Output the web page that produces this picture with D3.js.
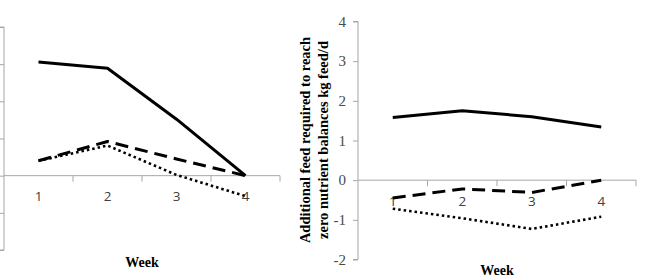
<!DOCTYPE html>
<html><head><meta charset="utf-8">
<script src="https://cdn.jsdelivr.net/npm/d3@7/dist/d3.min.js"></script>
<style>body{margin:0;background:#fff}svg{display:block}</style>
</head><body><svg id="c" width="645" height="277"></svg>
<script>
const weeks = ["1","2","3","4"];
const yTicks = [-2,-1,0,1,2,3,4];
const leftSolid  = [3.06, 2.89, 1.52, 0];
const leftDashed = [0.40, 0.92, 0.45, 0];
const leftDotted = [0.40, 0.81, 0.02, -0.55];
const rightSolid  = [1.58, 1.75, 1.60, 1.34];
const rightDashed = [-0.45, -0.22, -0.31, 0];
const rightDotted = [-0.72, -0.96, -1.23, -0.92];

const svg = d3.select("#c");
const axisColor = "#a6a6a6";
const styles = {
  solid:  {w:3, dash:null},
  dashed: {w:3, dash:"13,7"},
  dotted: {w:2.6, dash:"2.5,3"}
};

function panel(o){
  const x = d3.scaleBand().domain(weeks).range([o.x0,o.x1]);
  const y = d3.scaleLinear().domain([-2,4]).range([o.yb,o.yt]);
  const g = svg.append("g");
  // y axis
  const ya = g.append("g").attr("transform",`translate(${o.x0},0)`)
    .call(d3.axisLeft(y).tickValues(yTicks).tickSize(5)
      .tickFormat(o.showY ? (d=>String(d).replace("\u2212","-")) : ""));
  ya.select(".domain").attr("stroke",axisColor).attr("d",`M-5,${y(4)}H0V${y(-2)}H-5`);
  ya.selectAll(".tick line").attr("stroke",axisColor);
  ya.selectAll(".tick text").attr("font-family","'Liberation Serif',serif").attr("font-size",15)
    .attr("fill","#4a4a4a").attr("x",-12);
  // x axis at zero
  const bounds = weeks.map(w=>x(w)+x.bandwidth());
  const xa = g.append("g").attr("transform",`translate(0,${y(0)})`);
  xa.append("line").attr("x1",o.x0).attr("x2",o.x1).attr("stroke",axisColor);
  xa.selectAll("line.t").data(bounds).join("line").attr("class","t")
    .attr("x1",d=>d).attr("x2",d=>d).attr("y1",0).attr("y2",6).attr("stroke",axisColor);
  xa.selectAll("text").data(weeks).join("text")
    .attr("x",w=>x(w)+x.bandwidth()/2).attr("y",o.lblDy)
    .attr("text-anchor","middle").attr("font-family","'Open Sans',sans-serif").attr("font-size",13.5)
    .attr("fill","#404040").text(w=>w);
  // lines
  const line = d3.line().x((d,i)=>x(weeks[i])+x.bandwidth()/2).y(d=>y(d));
  [["solid",o.solid],["dashed",o.dashed],["dotted",o.dotted]].forEach(([k,data])=>{
    g.append("path").attr("d",line(data)).attr("fill","none").attr("stroke","#000")
      .attr("stroke-width",styles[k].w).attr("stroke-dasharray",styles[k].dash)
      .attr("stroke-linejoin","round");
  });
  // x title
  g.append("text").attr("x",(o.x0+o.x1)/2).attr("y",o.weekY).attr("text-anchor","middle")
    .attr("font-family","'Liberation Serif',serif").attr("font-weight","bold").attr("font-size",14)
    .text("Week");
}

panel({x0:4,x1:280,yt:27,yb:250,showY:false,solid:leftSolid,dashed:leftDashed,dotted:leftDotted,lblDy:25,weekY:267});
panel({x0:358,x1:636,yt:21.5,yb:259.5,showY:true,solid:rightSolid,dashed:rightDashed,dotted:rightDotted,lblDy:26,weekY:275});

// right y title
const t = svg.append("text").attr("transform","translate(314,140) rotate(-90)")
  .attr("text-anchor","middle").attr("font-family","'Liberation Serif',serif")
  .attr("font-weight","bold").attr("font-size",14.5);
t.append("tspan").attr("x",0).attr("dy","-0.3em").text("Additional feed required to reach");
t.append("tspan").attr("x",0).attr("dy","1.25em").text("zero nutrient balances kg feed/d");
</script></body></html>
